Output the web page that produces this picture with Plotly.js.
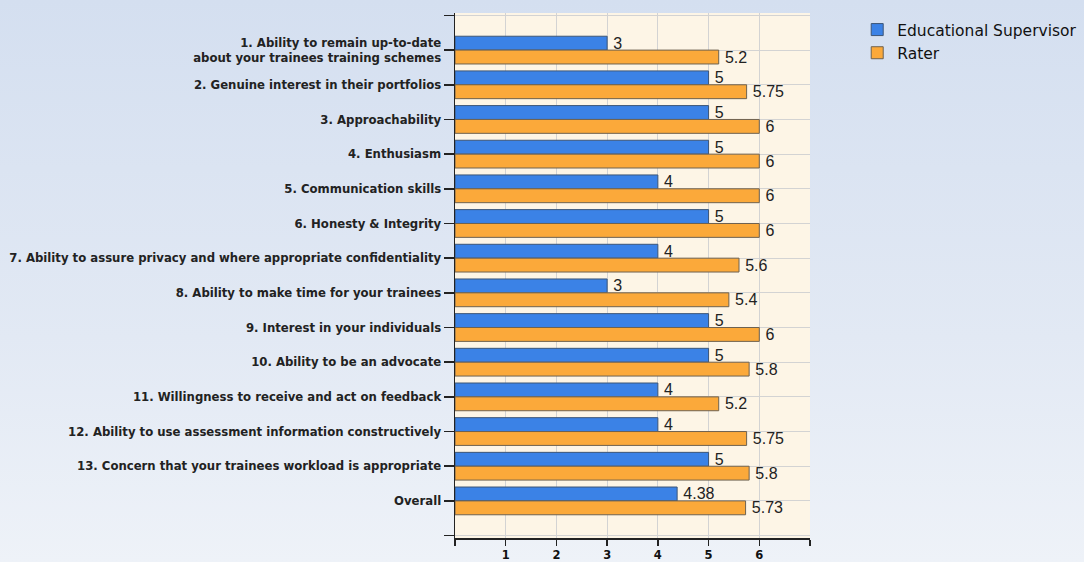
<!DOCTYPE html>
<html>
<head>
<meta charset="utf-8">
<script src="https://cdn.plot.ly/plotly-3.0.1.min.js"></script>
<style>
html,body{margin:0;padding:0;width:1084px;height:562px;overflow:hidden;
background:linear-gradient(180deg,#d4dff0 0%,#e2e9f4 60%,#eef2f8 100%);}
#chart{width:1084px;height:562px;}
</style>
</head>
<body>
<div id="chart"></div>
<script>
const categories = [
  "1. Ability to remain up-to-date<br>about your trainees training schemes",
  "2. Genuine interest in their portfolios",
  "3. Approachability",
  "4. Enthusiasm",
  "5. Communication skills",
  "6. Honesty & Integrity",
  "7. Ability to assure privacy and where appropriate confidentiality",
  "8. Ability to make time for your trainees",
  "9. Interest in your individuals",
  "10. Ability to be an advocate",
  "11. Willingness to receive and act on feedback",
  "12. Ability to use assessment information constructively",
  "13. Concern that your trainees workload is appropriate",
  "Overall"
];
const supervisorValues = [3, 5, 5, 5, 4, 5, 4, 3, 5, 5, 4, 4, 5, 4.38];
const raterValues = [5.2, 5.75, 6, 6, 6, 6, 5.6, 5.4, 6, 5.8, 5.2, 5.75, 5.8, 5.73];
const xTickValues = [0, 1, 2, 3, 4, 5, 6, 7];
const xTickLabels = ["", "1", "2", "3", "4", "5", "6", ""];
const seriesNames = ["Educational Supervisor", "Rater"];

const yPos = categories.map((c, i) => i);
const yTickVals = [-1].concat(yPos, [categories.length]);
const yTickText = [""].concat(categories, [""]);

const textFont = {family: "Liberation Sans, Arial, sans-serif", size: 16, color: "#222"};

const traces = [
  {
    type: "bar", orientation: "h", name: seriesNames[0],
    x: supervisorValues, y: yPos,
    text: supervisorValues.map(String), texttemplate: "\u2009%{text}",
    textposition: "outside", cliponaxis: false,
    constraintext: "none",
    textfont: textFont,
    marker: {color: "#3b82e6", line: {color: "#3d5677", width: 1}},
    hoverinfo: "x"
  },
  {
    type: "bar", orientation: "h", name: seriesNames[1],
    x: raterValues, y: yPos,
    text: raterValues.map(String), texttemplate: "\u2009%{text}",
    textposition: "outside", cliponaxis: false,
    constraintext: "none",
    textfont: textFont,
    marker: {color: "#fba93a", line: {color: "#6e6250", width: 1}},
    hoverinfo: "x"
  }
];

const layout = {
  width: 1084, height: 562,
  paper_bgcolor: "rgba(0,0,0,0)",
  plot_bgcolor: "#fdf5e6",
  margin: {l: 455, r: 274, t: 13, b: 24, autoexpand: false},
  barmode: "group",
  bargap: 0.2,
  bargroupgap: 0,
  showlegend: true,
  legend: {
    x: 1.133, xanchor: "left", y: 1.0, yanchor: "top",
    font: {family: "DejaVu Sans, sans-serif", size: 15.5, color: "#111"},
    bgcolor: "rgba(0,0,0,0)", tracegroupgap: 2, itemwidth: 30
  },
  xaxis: {
    range: [0, 7], tickvals: xTickValues, ticktext: xTickLabels,
    ticks: "outside", ticklen: 6, tickcolor: "#222", tickwidth: 1.5,
    showgrid: true, gridcolor: "#d3d3d3", gridwidth: 1,
    showline: true, linecolor: "#222", linewidth: 1.5,
    zeroline: false, mirror: false,
    tickfont: {family: "DejaVu Sans, sans-serif", size: 11.5, color: "#111", weight: "bold"},
    fixedrange: true
  },
  yaxis: {
    range: [categories.length + 0.07, -1.07],
    tickvals: yTickVals, ticktext: yTickText,
    ticks: "outside", ticklen: 10, tickcolor: "#222", tickwidth: 1.5,
    showgrid: true, gridcolor: "#d3d3d3", gridwidth: 1,
    showline: true, linecolor: "#222", linewidth: 1.5,
    zeroline: false,
    tickfont: {family: "DejaVu Sans, sans-serif", size: 11.7, color: "#222", weight: "bold"},
    fixedrange: true
  }
};

Plotly.newPlot("chart", traces, layout, {displayModeBar: false, staticPlot: true});
</script>
</body>
</html>
